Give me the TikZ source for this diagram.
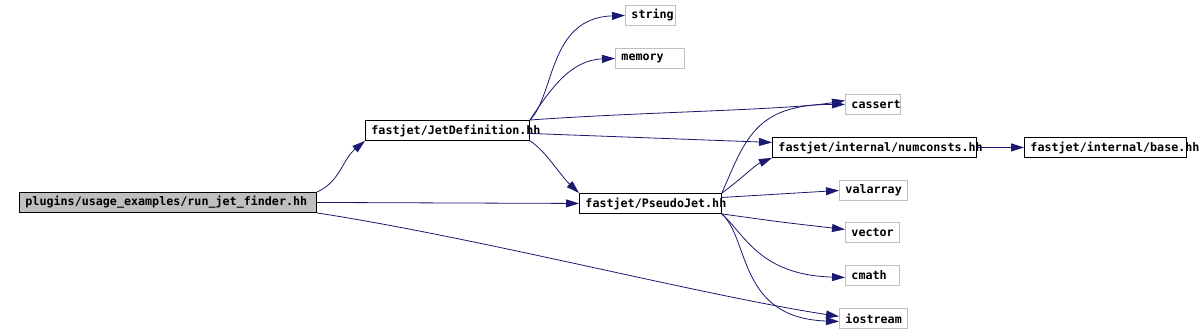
\documentclass[tikz,border=0pt]{standalone}
\usepackage{fontspec}
\setmonofont{DejaVu Sans Mono}
\usetikzlibrary{arrows.meta}
\definecolor{edgeblue}{HTML}{191970}
\definecolor{sysgray}{HTML}{BFBFBF}
\begin{document}
\begin{tikzpicture}[x=1pt,y=-1pt,
  hdr/.style={draw=black, line width=0.9pt, anchor=north west, minimum height=20pt,
    inner xsep=6pt, inner ysep=0pt, align=left,
    font=\ttfamily\bfseries\fontsize{11.7}{12}\selectfont},
  syshdr/.style={hdr, draw=sysgray},
  rootbox/.style={hdr, fill=sysgray},
  dep/.style={draw=edgeblue, line width=0.8pt, -{Triangle[length=13pt,width=8pt]}}]
\useasboundingbox (0,0) rectangle (1201,333);
\node[rootbox, text width=285pt] (root) at (19,192) {plugins/usage\_examples/run\_jet\_finder.hh};
\node[hdr, text width=152pt] (jetdef) at (365,120) {fastjet/JetDefinition.hh};
\node[syshdr, text width=38pt] (string) at (625,5) {string};
\node[syshdr, text width=57pt] (memory) at (615,48) {memory};
\node[hdr, text width=130pt] (pseudo) at (579,193) {fastjet/PseudoJet.hh};
\node[syshdr, text width=43pt] (cassert) at (845,94) {cassert};
\node[hdr, text width=192pt] (numconsts) at (772,137) {fastjet/internal/numconsts.hh};
\node[hdr, text width=150pt] (base) at (1024,137) {fastjet/internal/base.hh};
\node[syshdr, text width=56pt] (valarray) at (839,180) {valarray};
\node[syshdr, text width=42pt] (vector) at (845,222) {vector};
\node[syshdr, text width=42pt] (cmath) at (845,265) {cmath};
\node[syshdr, text width=56pt] (iostream) at (839,308) {iostream};

\draw[dep] (root.north east) .. controls (340,182) and (342,160) .. (jetdef.south west);
\draw[dep] (root.east) -- (pseudo.west);
\draw[dep] (root.south east) .. controls (480,238) and (700,295) .. ([yshift=2pt]iostream.west);
\draw[dep] (jetdef.north east) .. controls (555,95) and (548,18) .. (string.west);
\draw[dep] (jetdef.north east) .. controls (550,90) and (570,60) .. (memory.west);
\draw[dep] (jetdef.north east) .. controls (640,112) and (790,110) .. ([yshift=4pt]cassert.west);
\draw[dep] ([yshift=-3pt]jetdef.east) -- ([yshift=5pt]numconsts.west);
\draw[dep] (jetdef.south east) .. controls (545,150) and (560,175) .. (pseudo.north west);
\draw[dep] (pseudo.north east) .. controls (745,140) and (755,104) .. (cassert.west);
\draw[dep] (pseudo.north east) .. controls (740,180) and (755,165) .. (numconsts.south west);
\draw[dep] ([yshift=6pt]pseudo.east) -- (valarray.west);
\draw[dep] (pseudo.south east) .. controls (780,222) .. ([yshift=3pt]vector.west);
\draw[dep] (pseudo.south east) .. controls (745,235) and (760,275) .. ([yshift=-2pt]cmath.west);
\draw[dep] (pseudo.south east) .. controls (750,240) and (738,318) .. ([yshift=-3pt]iostream.west);
\draw[dep] (numconsts.east) -- (base.west);
\end{tikzpicture}
\end{document}
